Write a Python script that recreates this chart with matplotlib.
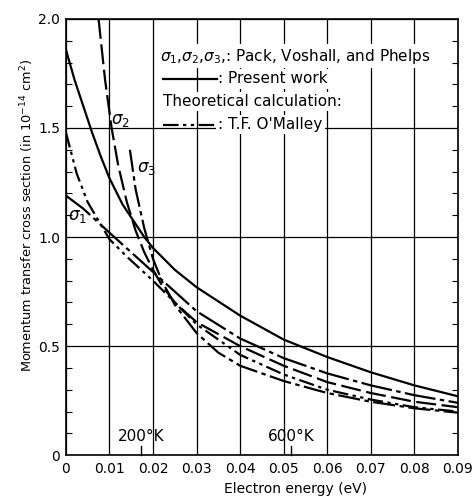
import matplotlib
matplotlib.use("Agg")
import matplotlib.pyplot as plt
from matplotlib.ticker import MultipleLocator

# values (energy in eV, cross section in 1e-14 cm^2)
present_x = [0.0, 0.002, 0.004, 0.006, 0.008, 0.010, 0.013, 0.016, 0.018, 0.020,
             0.025, 0.030, 0.040, 0.050, 0.060, 0.070, 0.080, 0.090]
present_y = [1.86, 1.72, 1.60, 1.48, 1.37, 1.27, 1.15, 1.06, 1.00, 0.95,
             0.85, 0.77, 0.64, 0.53, 0.45, 0.38, 0.32, 0.27]

sigma1_x = [0.0, 0.004, 0.010, 0.015, 0.020, 0.025, 0.030, 0.040, 0.050, 0.060,
            0.070, 0.080, 0.090]
sigma1_y = [1.19, 1.13, 1.02, 0.93, 0.84, 0.75, 0.66, 0.535, 0.445, 0.375,
            0.32, 0.275, 0.24]

sigma2_x = [0.0075, 0.009, 0.0105, 0.012, 0.014, 0.016, 0.018, 0.020, 0.022,
            0.025, 0.030, 0.040, 0.050, 0.060, 0.070, 0.080, 0.090]
sigma2_y = [2.0, 1.72, 1.50, 1.33, 1.16, 1.03, 0.93, 0.85, 0.78,
            0.70, 0.61, 0.50, 0.41, 0.335, 0.285, 0.245, 0.22]

sigma3_x = [0.0147, 0.016, 0.018, 0.020, 0.022, 0.025, 0.030, 0.035, 0.040,
            0.050, 0.060, 0.070, 0.080, 0.090]
sigma3_y = [1.40, 1.22, 1.04, 0.90, 0.80, 0.69, 0.56, 0.47, 0.41,
            0.34, 0.285, 0.245, 0.215, 0.195]

omalley_x = [0.0, 0.0025, 0.005, 0.010, 0.014, 0.020, 0.025, 0.030, 0.040,
             0.050, 0.060, 0.070, 0.080, 0.090]
omalley_y = [1.48, 1.29, 1.16, 0.99, 0.91, 0.80, 0.70, 0.60, 0.46,
             0.37, 0.30, 0.255, 0.22, 0.20]

x_ticks = [0, 0.01, 0.02, 0.03, 0.04, 0.05, 0.06, 0.07, 0.08, 0.09]
x_tick_labels = ["0", "0.01", "0.02", "0.03", "0.04", "0.05", "0.06", "0.07", "0.08", "0.09"]
y_ticks = [0, 0.5, 1.0, 1.5, 2.0]
y_tick_labels = ["0", "0.5", "1.0", "1.5", "2.0"]

temps_K = [200, 600]
k_B = 8.617e-5  # eV/K

plt.rcParams["font.family"] = ["DejaVu Sans"]
plt.rcParams["mathtext.fontset"] = "dejavusans"

fig = plt.figure(figsize=(4.74, 4.98), dpi=100)
ax = fig.add_axes([0.139, 0.086, 0.827, 0.876])

lw = 1.6
omalley_dash = (7, 2, 1.5, 2, 1.5, 2)
ax.plot(present_x, present_y, color="black", lw=lw, solid_capstyle="butt")
ax.plot(sigma1_x, sigma1_y, color="black", lw=lw, dashes=(14, 2, 2, 2))
ax.plot(sigma2_x, sigma2_y, color="black", lw=lw, dashes=(9, 2.5))
ax.plot(sigma3_x, sigma3_y, color="black", lw=lw, dashes=(10, 2, 2, 2))
ax.plot(omalley_x, omalley_y, color="black", lw=lw, dashes=omalley_dash)

ax.set_xlim(0, 0.09)
ax.set_ylim(0, 2.0)
ax.set_xticks(x_ticks)
ax.set_xticklabels(x_tick_labels, fontsize=10)
ax.set_yticks(y_ticks)
ax.set_yticklabels(y_tick_labels, fontsize=10)
ax.yaxis.set_minor_locator(MultipleLocator(0.1))
ax.tick_params(axis="x", which="major", length=0, pad=5)
ax.tick_params(axis="y", which="major", length=0, pad=4)
ax.tick_params(axis="y", which="minor", direction="in", length=4, width=0.8,
               left=True, right=True)

ax.grid(True, which="major", color="black", lw=0.9)
for side in ax.spines.values():
    side.set_linewidth(1.2)

# temperature markers (kT)
for T in temps_K:
    e = k_B * T
    ax.plot([e, e], [0, 0.04], color="black", lw=1.0, clip_on=False)
    ax.text(e, 0.05, f"{T}°K", ha="center", va="bottom", fontsize=11)

# curve labels
ax.text(0.0004, 1.08, r"$\sigma_1$", fontsize=12)
ax.text(0.0103, 1.52, r"$\sigma_2$", fontsize=12)
ax.text(0.0163, 1.30, r"$\sigma_3$", fontsize=12)

# legend block
box = dict(facecolor="white", edgecolor="none", pad=1.5)
fs = 11
ax.text(0.0215, 1.83, r"$\sigma_1$,$\sigma_2$,$\sigma_3$,: Pack, Voshall, and Phelps",
        fontsize=fs, va="center", bbox=box, zorder=5)
ax.text(0.0350, 1.725, ": Present work", fontsize=fs, va="center", bbox=box, zorder=5)
ax.text(0.0222, 1.62, "Theoretical calculation:", fontsize=fs, va="center", bbox=box, zorder=5)
ax.text(0.0350, 1.515, ": T.F. O'Malley", fontsize=fs, va="center", bbox=box, zorder=5)
ax.plot([0.0222, 0.0348], [1.725, 1.725], color="black", lw=lw, zorder=6)
ax.plot([0.0222, 0.0348], [1.515, 1.515], color="black", lw=lw,
        dashes=omalley_dash, zorder=6)

ax.set_xlabel("Electron energy (eV)", fontsize=10)
ax.xaxis.set_label_coords(0.587, -0.062)
ax.set_ylabel(r"Momentum transfer cross section (in 10$^{-14}$ cm$^{2}$)", fontsize=9.3)
ax.yaxis.set_label_coords(-0.075, 0.55)

fig.savefig("out.png", dpi=100)
